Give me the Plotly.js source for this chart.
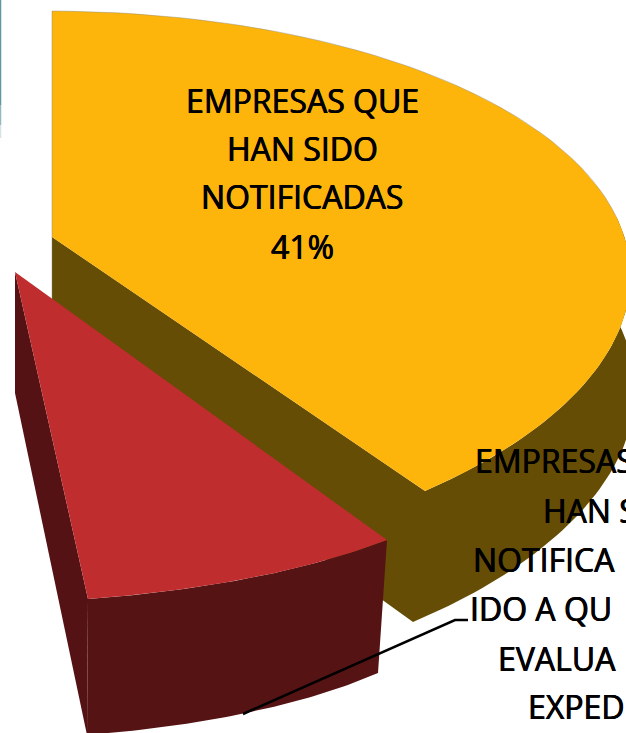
<!DOCTYPE html>
<html>
<head>
<meta charset="utf-8">
<script src="https://cdn.plot.ly/plotly-3.0.1.min.js"></script>
<style>html,body{margin:0;padding:0;background:#fff;overflow:hidden}#c{width:626px;height:733px}</style>
</head>
<body>
<div id="c"></div>
<script>
// ---- data ----
const categories = ["EMPRESAS QUE HAN SIDO NOTIFICADAS", "EMPRESAS QUE HAN SIDO NOTIFICADAS"];
const values = [41, 7];
const labelOneLines = ["EMPRESAS QUE", "HAN SIDO", "NOTIFICADAS", "41%"];
const labelTwoLines = ["EMPRESAS", "HAN S", "NOTIFICA", "IDO A QU", "EVALUA", "EXPED"];

// ---- colours ----
const YELLOW = "#FDB50B", BROWN = "#664D05", RED = "#BF2D2E", DARK = "#561314", LEFT = "#541214";
const FONT = "Open Sans, Noto Sans, sans-serif";
const THICKEN = "0.5px 0 0 #000, -0.4px 0 0 #000";

// ---- perspective from the unit disc onto the page ----
function solve(A, b) {
  const n = b.length, M = A.map((r, i) => r.concat(b[i]));
  for (let i = 0; i < n; i++) {
    let p = i;
    for (let k = i + 1; k < n; k++) if (Math.abs(M[k][i]) > Math.abs(M[p][i])) p = k;
    [M[i], M[p]] = [M[p], M[i]];
    for (let k = i + 1; k < n; k++) {
      const f = M[k][i] / M[i][i];
      for (let j = i; j <= n; j++) M[k][j] -= f * M[i][j];
    }
  }
  const x = new Array(n).fill(0);
  for (let i = n - 1; i >= 0; i--) {
    let s = M[i][n];
    for (let j = i + 1; j < n; j++) s -= M[i][j] * x[j];
    x[i] = s / M[i][i];
  }
  return x;
}
function projector(pairs) {
  const A = [], b = [];
  pairs.forEach(([u, v, X, Y]) => {
    A.push([u, v, 1, 0, 0, 0, -u * X, -v * X]); b.push(X);
    A.push([0, 0, 0, u, v, 1, -u * Y, -v * Y]); b.push(Y);
  });
  const h = solve(A, b);
  return (u, v) => {
    const w = h[6] * u + h[7] * v + 1;
    return [(h[0] * u + h[1] * v + h[2]) / w, (h[3] * u + h[4] * v + h[5]) / w];
  };
}
const disc = deg => [Math.sin(deg * Math.PI / 180), Math.cos(deg * Math.PI / 180)];
const at = (deg, X, Y) => disc(deg).concat([X, Y]);

const total = 100;
const a0 = 0;
const a1 = values[0] / total * 360;
const a2 = a1 + values[1] / total * 360;
const aMid = (a1 + a2) / 2;

const yTop = projector([[0, 0, 52, 237], at(0, 52, 11), at(90, 620, 225), at(a1, 425, 491)]);
const yBot = projector([[0, 0, 52, 362], at(0, 52, 136), at(90, 624, 335), at(a1, 413, 622)]);
const rTop = projector([[0, 0, 15, 272], at(a1, 387, 540), at(aMid, 260, 576), at(a2, 88, 599)]);
const rBot = projector([[0, 0, 15, 393], at(a1, 378, 673), at(aMid, 260, 710), at(a2, 87, 735)]);

function arc(P, from, to) {
  const pts = [], n = 60;
  for (let i = 0; i <= n; i++) {
    const d = disc(from + (to - from) * i / n);
    pts.push(P(d[0], d[1]));
  }
  return pts;
}
function poly(pts, color, name) {
  return {
    type: "scatter", mode: "lines", name: name, fill: "toself", fillcolor: color,
    x: pts.map(p => p[0]), y: pts.map(p => p[1]),
    line: { width: 0, color: color }, hoverinfo: "skip", showlegend: false
  };
}
function stroke(pts, color, width) {
  return {
    type: "scatter", mode: "lines", x: pts.map(p => p[0]), y: pts.map(p => p[1]),
    line: { color: color, width: width }, hoverinfo: "skip", showlegend: false
  };
}
const close = pts => pts.concat([pts[0]]);

const traces = [];
// yellow slice: wall, top, faint outline along its far edges
traces.push(poly(close([yTop(0, 0), yBot(0, 0)].concat(arc(yBot, a1, 88), arc(yTop, 88, a1))), BROWN, categories[0]));
traces.push(poly(close([yTop(0, 0)].concat(arc(yTop, a0, a1))), YELLOW, categories[0]));
traces.push(stroke([yBot(0, 0), yTop(0, 0)].concat(arc(yTop, a0, 88)), "rgba(130,130,130,0.4)", 1));
// red slice: cut face, rim wall, top
traces.push(poly(close([rTop(0, 0), rBot(0, 0)].concat(arc(rBot, a2, a2), arc(rTop, a2, a2))), LEFT, categories[1]));
traces.push(poly(close(arc(rTop, a1, a2).concat(arc(rBot, a2, a1))), DARK, categories[1]));
traces.push(poly(close([rTop(0, 0)].concat(arc(rTop, a1, a2))), RED, categories[1]));
// leader line
traces.push(stroke([[243, 714], [455, 620], [468, 620]], "#000", 2.5));
// side rule at the left edge of the page
traces.push(stroke([[0.5, 0], [0.5, 105]], "#5F97A3", 1.5));
traces.push(stroke([[0.5, 105], [0.5, 125]], "#93B8C0", 1.5));
traces.push(stroke([[0.5, 125], [0.5, 138]], "#D2E2E5", 1.5));

const annotations = [];
const lineOneY = [100, 148, 196, 246];
labelOneLines.forEach((t, i) => annotations.push({
  text: t, x: 302, y: lineOneY[i], xref: "x", yref: "y", xanchor: "center", yanchor: "middle",
  showarrow: false, font: { family: FONT, size: 32, color: "#000", shadow: THICKEN }
}));
const lineTwoY = [460, 510, 559, 608, 658, 706];
const lineTwoX = [473, 541, 471, 468, 496, 526];
labelTwoLines.forEach((t, i) => annotations.push({
  text: t, x: lineTwoX[i], y: lineTwoY[i], xref: "x", yref: "y", xanchor: "left", yanchor: "middle",
  showarrow: false, font: { family: FONT, size: 32, color: "#000", shadow: THICKEN }
}));

const hidden = { visible: false, fixedrange: true, showgrid: false, zeroline: false };
Plotly.newPlot("c", traces, {
  width: 626, height: 733, margin: { l: 0, r: 0, t: 0, b: 0 },
  paper_bgcolor: "#fff", plot_bgcolor: "#fff", showlegend: false,
  xaxis: Object.assign({ range: [0, 626] }, hidden),
  yaxis: Object.assign({ range: [733, 0] }, hidden),
  annotations: annotations
}, { displayModeBar: false, staticPlot: true });
</script>
</body>
</html>
